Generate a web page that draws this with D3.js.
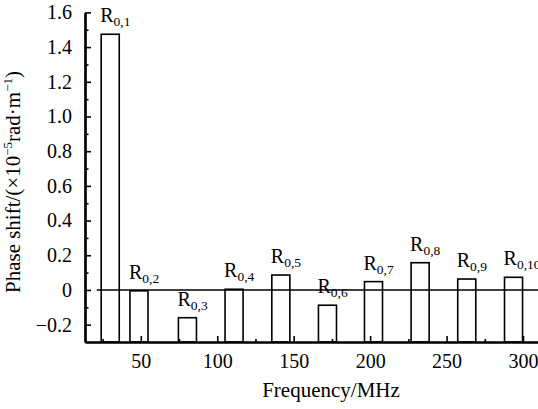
<!DOCTYPE html>
<html>
<head>
<meta charset="utf-8">
<script src="https://cdn.jsdelivr.net/npm/d3@7/dist/d3.min.js"></script>
<style>
  html, body { margin: 0; padding: 0; background: #fff; }
  svg { display: block; }
  text { font-family: "Liberation Serif", "Times New Roman", serif; fill: #000; }
</style>
</head>
<body>
<svg id="chart" width="538" height="409"></svg>
<script>
// Resonance modes R(0,n): frequency (MHz) and phase shift (×10^-5 rad/m)
const modes = ["0,1", "0,2", "0,3", "0,4", "0,5", "0,6", "0,7", "0,8", "0,9", "0,10"];
const frequency = [30, 48.8, 80.5, 111.0, 141.6, 172.1, 202.2, 232.7, 263.2, 293.8];
const phaseShift = [1.474, -0.005, -0.160, 0.004, 0.086, -0.088, 0.048, 0.157, 0.063, 0.073];

const xMajorTicks = [50, 100, 150, 200, 250, 300];
const xMinorTicks = [25, 75, 125, 175, 225, 275];
const yMajorTicks = [-0.2, 0, 0.2, 0.4, 0.6, 0.8, 1.0, 1.2, 1.4, 1.6];
const yMinorTicks = [-0.1, 0.1, 0.3, 0.5, 0.7, 0.9, 1.1, 1.3, 1.5];

const svg = d3.select("#chart");
const plot = { left: 85, right: 538.3, top: 12.4, bottom: 342 };

const x = d3.scaleLinear().domain([13.5, 310]).range([plot.left, plot.right]);
const y = d3.scaleLinear().domain([-0.3, 1.6]).range([plot.bottom, plot.top]);
const halfWidth = 5.9; // half bar width in MHz

const fmtY = v => (v < 0 ? "\u2212" : "") + (v === 0 ? "0" : d3.format(".1f")(Math.abs(v)));

// Bars rise from the bottom of the frame
const bars = svg.append("g");
bars.selectAll("rect")
  .data(frequency.map((f, i) => ({ f, v: phaseShift[i], m: modes[i] })))
  .join("rect")
  .attr("x", d => x(d.f - halfWidth))
  .attr("width", d => x(d.f + halfWidth) - x(d.f - halfWidth))
  .attr("y", d => y(d.v))
  .attr("height", d => y(-0.3) - y(d.v))
  .attr("fill", "#fff")
  .attr("stroke", "#000")
  .attr("stroke-width", 1.6);

// Zero reference line
svg.append("line")
  .attr("x1", x(21.2)).attr("x2", x(310))
  .attr("y1", y(0)).attr("y2", y(0))
  .attr("stroke", "#000").attr("stroke-width", 1.6);

// Mode labels R_{0,n}
const labels = svg.append("g");
frequency.forEach((f, i) => {
  const t = labels.append("text")
    .attr("x", x(f) - 10)
    .attr("y", y(phaseShift[i]) - 12)
    .style("font-size", "20px");
  t.append("tspan").text("R");
  t.append("tspan").attr("dy", 4).style("font-size", "13.5px").text(modes[i]);
});

// Axes: ticks point inward
const yAxis = svg.append("g").attr("transform", `translate(${plot.left},0)`)
  .call(d3.axisLeft(y).tickValues(yMajorTicks).tickFormat(fmtY).tickSizeInner(-6).tickSizeOuter(0).tickPadding(13));
svg.append("g").attr("transform", `translate(${plot.left},0)`)
  .call(d3.axisLeft(y).tickValues(yMinorTicks).tickFormat("").tickSizeInner(-3.5).tickSizeOuter(0));

const xAxis = svg.append("g").attr("transform", `translate(0,${plot.bottom})`)
  .call(d3.axisBottom(x).tickValues(xMajorTicks).tickFormat(d3.format("d")).tickSizeInner(-6).tickSizeOuter(0).tickPadding(12));
svg.append("g").attr("transform", `translate(0,${plot.bottom})`)
  .call(d3.axisBottom(x).tickValues(xMinorTicks).tickFormat("").tickSizeInner(-3).tickSizeOuter(0));

svg.selectAll(".domain").attr("stroke", "#000").attr("stroke-width", 2.2);
svg.selectAll(".tick line").attr("stroke", "#000").attr("stroke-width", 1.6);
svg.selectAll(".tick text")
  .style("font-family", "\"Liberation Serif\", \"Times New Roman\", serif")
  .style("font-size", "20px").attr("fill", "#000");

// Axis titles
svg.append("text")
  .attr("x", 331).attr("y", 397)
  .attr("text-anchor", "middle")
  .style("font-size", "21px")
  .text("Frequency/MHz");

const yt = svg.append("text")
  .attr("transform", "translate(20,182) rotate(-90)")
  .attr("text-anchor", "middle")
  .style("font-size", "21px");
yt.append("tspan").text("Phase shift/(\u00d710");
yt.append("tspan").attr("dy", -8).style("font-size", "13px").text("\u22125");
yt.append("tspan").attr("dy", 8).text("rad\u00b7m");
yt.append("tspan").attr("dy", -8).style("font-size", "13px").text("\u22121");
yt.append("tspan").attr("dy", 8).text(")");
</script>
</body>
</html>
